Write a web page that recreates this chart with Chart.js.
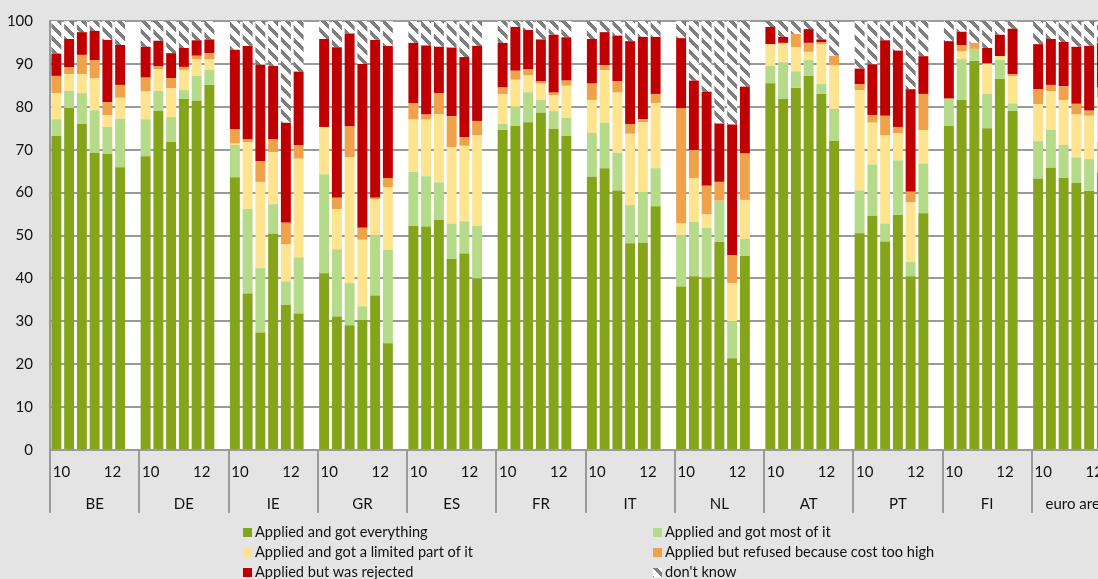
<!DOCTYPE html>
<html>
<head>
<meta charset="utf-8">
<script src="https://cdn.jsdelivr.net/npm/chart.js@4.4.1/dist/chart.umd.min.js"></script>
<style>
  html, body { margin:0; padding:0; background:#e4e4e4; overflow:hidden; width:1098px; height:579px; }
  #wrap { position:relative; width:1098px; height:579px; overflow:hidden; }
  #c { position:absolute; left:0; top:0; }
  .lg { position:absolute; font-family:Lato, sans-serif; font-size:14.6px; color:#111; white-space:nowrap; height:20px; line-height:20px; }
  .sw { position:absolute; width:9px; height:9px; top:6px; left:0; }
  .tx { position:absolute; left:12px; top:0; }
</style>
</head>
<body>
<div id="wrap">
  <canvas id="c" width="1122" height="579"></canvas>
</div>
<script>
// ---------------- DATA ----------------
const countries = ['BE','DE','IE','GR','ES','FR','IT','NL','AT','PT','FI','euro area'];
// labels of the 7 slots of each country group (6 survey rounds + empty gap)
const periodLabels = ['10','','','','12','',''];

const seriesNames = [
  'Applied and got everything',
  'Applied and got most of it',
  'Applied and got a limited part of it',
  'Applied but refused because cost too high',
  'Applied but was rejected',
  "don't know"
];

const gotEverything = [
  [73.2,79.7,76.0,69.3,69.0,65.9],
  [68.5,79.0,71.8,81.8,81.4,85.1],
  [63.6,36.5,27.4,50.4,33.8,31.8],
  [41.2,31.1,29.1,30.3,36.0,24.9],
  [52.3,52.1,53.6,44.5,45.8,40.0],
  [74.6,75.5,76.4,78.6,74.9,73.2],
  [63.7,65.7,60.5,48.2,48.3,56.8],
  [38.1,40.5,40.2,48.5,21.4,45.2],
  [85.5,81.8,84.4,87.2,83.0,72.0],
  [50.5,54.6,48.6,54.8,40.5,55.2],
  [75.5,81.6,90.7,75.0,86.5,79.0],
  [63.2,65.8,63.4,62.3,60.4,64.6]
];
const gotMost = [
  [3.9,4.0,7.2,9.9,6.3,11.3],
  [8.6,4.7,5.8,2.1,5.8,3.5],
  [7.5,19.7,15.0,6.9,5.5,13.1],
  [23.1,15.7,9.8,3.2,14.0,21.8],
  [12.5,11.7,8.8,8.3,7.5,12.2],
  [1.4,4.5,7.0,3.0,4.1,4.2],
  [10.2,10.6,8.8,8.9,11.9,8.9],
  [11.9,12.7,11.6,9.6,8.6,4.0],
  [4.0,8.6,3.9,3.7,2.3,7.5],
  [10.0,12.0,4.2,12.7,3.3,11.6],
  [6.4,9.5,2.8,8.0,4.4,1.8],
  [8.8,8.8,7.7,5.9,7.4,7.2]
];
const gotLimited = [
  [6.1,3.9,4.4,7.4,2.7,4.9],
  [6.5,5.1,6.7,4.7,3.9,2.4],
  [0.3,15.6,20.1,12.1,8.6,23.0],
  [11.0,9.3,29.4,15.5,8.4,14.6],
  [12.2,13.2,15.9,17.8,17.6,21.2],
  [7.0,6.3,3.9,3.8,3.7,7.5],
  [7.7,12.2,14.0,16.6,16.2,15.2],
  [2.8,10.1,3.1,0,8.9,9.1],
  [5.1,4.3,5.6,1.9,9.2,10.1],
  [23.4,9.7,20.5,6.4,13.9,7.8],
  [0,1.9,0,7.0,0.9,6.3],
  [8.6,9.0,10.5,10.0,10.1,10.3]
];
const refusedCost = [
  [4.0,1.6,4.5,4.3,3.1,3.0],
  [3.2,0.6,2.4,0.7,0.8,1.5],
  [3.4,0.6,4.8,3.0,5.1,3.1],
  [0,2.7,7.1,2.8,0.4,2.1],
  [3.8,1.2,4.9,7.2,2.0,3.3],
  [1.5,2.1,1.4,0.5,0.6,1.2],
  [3.8,1.2,2.7,2.3,0.7,2.1],
  [26.8,6.6,6.7,4.4,6.5,10.8],
  [0,0.2,3.1,2.1,0.6,2.3],
  [1.4,1.8,4.6,1.4,2.5,8.4],
  [0,1.3,1.4,0.1,0,0.5],
  [3.5,1.5,3.2,2.5,1.2,2.4]
];
const rejected = [
  [5.2,6.6,5.3,6.8,14.5,9.3],
  [7.2,6.0,5.8,4.4,3.6,3.2],
  [18.5,21.8,22.5,17.1,23.3,17.2],
  [20.5,35.1,21.7,38.2,36.8,30.8],
  [14.1,16.1,10.8,16.0,18.7,17.5],
  [10.4,10.2,9.2,9.8,13.5,10.1],
  [10.4,7.7,10.6,19.3,19.2,13.3],
  [16.4,16.2,21.9,13.6,30.5,15.6],
  [4.0,1.4,0,3.2,0.6,0],
  [3.6,11.8,17.6,17.8,23.9,8.8],
  [13.4,3.2,0,3.6,5.0,10.6],
  [10.5,10.7,10.3,13.3,15.1,10.4]
];
const dontKnow = [
  [7.6,4.2,2.6,2.3,4.4,5.6],
  [6.0,4.6,7.5,6.3,4.5,4.3],
  [7.0,5.8,10.2,10.5,23.7,11.8],
  [4.2,6.1,2.9,10.0,4.4,5.8],
  [5.1,5.7,6.0,6.2,8.4,5.8],
  [5.1,1.4,2.1,4.3,3.2,3.8],
  [4.2,2.6,3.4,4.7,3.7,3.7],
  [4.0,13.9,16.5,23.9,24.1,15.3],
  [1.4,3.7,3.0,1.9,4.3,8.1],
  [11.1,10.1,4.5,6.9,15.9,8.2],
  [4.7,2.5,5.1,6.3,3.2,1.8],
  [5.4,4.2,4.9,6.0,5.8,5.1]
];

// ---------------- BUILD ----------------
const GRID = '#9a9a9a';
function makePatternCanvas() {
  const c = document.createElement('canvas');
  c.width = 12; c.height = 12;
  const x = c.getContext('2d');
  x.fillStyle = '#ffffff'; x.fillRect(0,0,12,12);
  x.fillStyle = '#7f7f7f';
  for (let py = 0; py < 12; py++) for (let px = 0; px < 12; px++) {
    const d = ((px - py) % 12 + 12) % 12;
    if (d < 5) x.fillRect(px, py, 1, 1);
  }
  return c;
}
const patCanvas = makePatternCanvas();
const ctx = document.getElementById('c').getContext('2d');
const dkPattern = ctx.createPattern(patCanvas, 'repeat');

const labels = [];
countries.forEach(() => periodLabels.forEach(l => labels.push(l)));
function flat(arr) {
  const out = [];
  arr.forEach(g => { g.forEach(v => out.push(v)); out.push(null); });
  return out;
}
const seriesData = [gotEverything, gotMost, gotLimited, refusedCost, rejected, dontKnow];
const colors = ['#84a419', '#b5db88', '#fee48f', '#f0a24a', '#c00000', dkPattern];

const datasets = seriesData.map((d, i) => ({
  label: seriesNames[i],
  data: flat(d),
  backgroundColor: colors[i],
  borderWidth: 0,
  xAxisID: 'x',
  yAxisID: 'y'
}));

const bgPlugin = {
  id: 'bg',
  beforeDraw(chart) {
    const { ctx, chartArea: a } = chart;
    ctx.save();
    ctx.fillStyle = '#e4e4e4';
    ctx.fillRect(0, 0, chart.width, chart.height);
    ctx.fillStyle = '#ffffff';
    ctx.fillRect(a.left, a.top, a.right - a.left, a.bottom - a.top);
    ctx.restore();
  }
};

const chart = new Chart(ctx, {
  type: 'bar',
  data: { labels, datasets },
  plugins: [bgPlugin],
  options: {
    responsive: false,
    animation: false,
    layout: { padding: { top: 21, left: 0, right: 1, bottom: 66 } },
    plugins: { legend: { display: false }, tooltip: { enabled: false } },
    datasets: { bar: { barPercentage: 0.78, categoryPercentage: 1 } },
    scales: {
      x: {
        type: 'category', stacked: true, offset: true, weight: 0, position: 'bottom',
        grid: { drawOnChartArea: false, offset: true, tickLength: 31, lineWidth: 2,
                color: c => (c.index % 7 === 0 ? GRID : 'rgba(0,0,0,0)') },
        border: { display: true, color: GRID, width: 2 },
        ticks: { autoSkip: false, maxRotation: 0, minRotation: 0, padding: -18, labelOffset: 5,
                 color: '#111', font: { family: 'Lato', size: 15 } },
        afterFit(s) { s.height = 31; }
      },
      x2: {
        type: 'category', labels: countries, position: 'bottom', offset: true, weight: 1,
        grid: { drawOnChartArea: false, offset: true, tickLength: 32, lineWidth: 2, color: GRID },
        border: { display: false },
        ticks: { autoSkip: false, maxRotation: 0, minRotation: 0, padding: -18,
                 color: '#111', font: { family: 'Lato', size: 15 } },
        afterFit(s) { s.height = 32; }
      },
      y: {
        stacked: true, min: 0, max: 100,
        ticks: { stepSize: 10, padding: 0, color: '#111', font: { family: 'Lato', size: 15 } },
        grid: { color: GRID, lineWidth: 2, drawTicks: true, tickLength: 17, tickColor: 'rgba(0,0,0,0)' },
        border: { display: true, color: GRID, width: 2 },
        afterFit(s) { s.width = 50; }
      }
    }
  }
});

// ---------------- HTML LEGEND (two columns) ----------------
const wrap = document.getElementById('wrap');
const colX = [243, 653];
const rowY = [522, 542, 562];
chart.data.datasets.forEach((ds, i) => {
  const item = document.createElement('div');
  item.className = 'lg';
  item.style.left = colX[i % 2] + 'px';
  item.style.top = rowY[Math.floor(i / 2)] + 'px';
  const sw = document.createElement('span');
  sw.className = 'sw';
  if (typeof ds.backgroundColor === 'string') sw.style.background = ds.backgroundColor;
  else sw.style.backgroundImage = 'url(' + patCanvas.toDataURL() + ')';
  const tx = document.createElement('span');
  tx.className = 'tx';
  tx.textContent = ds.label;
  item.appendChild(sw); item.appendChild(tx);
  wrap.appendChild(item);
});
</script>
</body>
</html>
